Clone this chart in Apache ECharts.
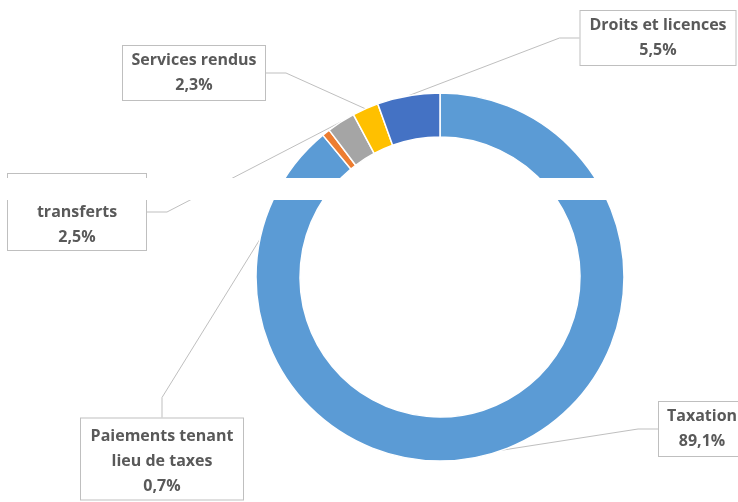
<!DOCTYPE html>
<html>
<head>
<meta charset="utf-8">
<script src="https://cdn.jsdelivr.net/npm/echarts@6/dist/echarts.min.js"></script>
<style>
html,body{margin:0;padding:0;background:#fff;}
#main{width:738px;height:502px;}
</style>
</head>
<body>
<div id="main"></div>
<script>
// Data
const categories = ['Taxation', 'Paiements tenant\nlieu de taxes', 'transferts', 'Services rendus', 'Droits et licences'];
const values = [89.1, 0.7, 2.5, 2.3, 5.5];
const colors = ['#5b9bd5', '#ed7d31', '#a5a5a5', '#ffc000', '#4472c4'];

// label box placement (centre of box), content width, padding, top spacer — layout only
const labelBoxes = [
  { cx: 702, cy: 429, w: 74,  pad: [2, 6, 2, 6], sp: 0 },
  { cx: 162, cy: 459, w: 146, pad: [5, 8, 1, 8], sp: 0 },
  { cx: 77,  cy: 212, w: 122, pad: [2, 8, 0, 8], sp: 24 },
  { cx: 194, cy: 73,  w: 126, pad: [2, 8, 2, 8], sp: 0 },
  { cx: 658, cy: 38,  w: 139, pad: [2, 8, 2, 8], sp: 0 }
];

const chart = echarts.init(document.getElementById('main'), null, { renderer: 'canvas' });

const fmt = v => v.toFixed(1).replace('.', ',') + '%';

const option = {
  backgroundColor: '#ffffff',
  animation: false,
  series: [{
    type: 'pie',
    center: [440, 277],
    radius: [140, 184],
    startAngle: 90,
    clockwise: true,
    avoidLabelOverlap: false,
    itemStyle: { borderColor: '#ffffff', borderWidth: 1.5 },
    data: categories.map((c, i) => ({
      name: c,
      value: values[i],
      itemStyle: { color: colors[i] },
      label: { width: labelBoxes[i].w, padding: labelBoxes[i].pad }
    })),
    label: {
      show: true,
      position: 'outside',
      formatter: p => {
        const b = labelBoxes[p.dataIndex];
        const lines = (p.name + '\n' + fmt(p.value)).split('\n').map(s => '{t|' + s + '}');
        return (b.sp ? '{s|}\n' : '') + lines.join('\n');
      },
      rich: {
        t: {
          fontFamily: 'Open Sans',
          fontWeight: 'bold',
          fontSize: 16,
          lineHeight: 25,
          color: '#595959',
          align: 'center'
        },
        s: { height: 24, lineHeight: 24, fontSize: 1 }
      },
      fontFamily: 'Open Sans',
      fontWeight: 'bold',
      fontSize: 16,
      lineHeight: 25,
      color: '#595959',
      align: 'center',
      backgroundColor: '#ffffff',
      borderColor: '#bfbfbf',
      borderWidth: 1
    },
    labelLine: {
      show: true,
      length: 20,
      length2: 20,
      lineStyle: { color: '#bfbfbf', width: 1 }
    },
    labelLayout: function (params) {
      const b = labelBoxes[params.dataIndex];
      return { x: b.cx, y: b.cy, align: 'center', verticalAlign: 'middle' };
    }
  }],
  graphic: [{
    type: 'rect',
    z: 100,
    shape: { x: 0, y: 178, width: 738, height: 22 },
    style: { fill: '#ffffff' }
  }]
};

chart.setOption(option);
</script>
</body>
</html>
